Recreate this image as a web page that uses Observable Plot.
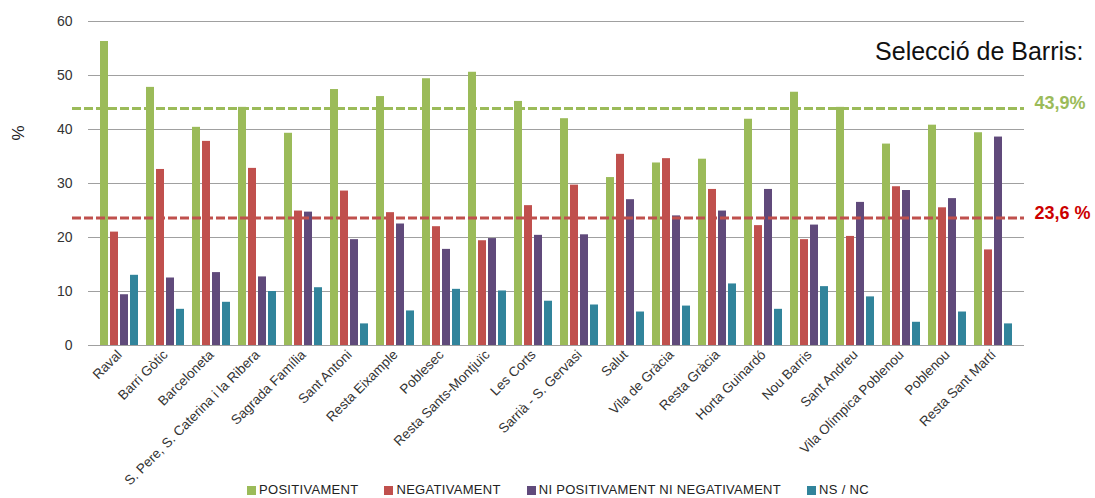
<!DOCTYPE html>
<html>
<head>
<meta charset="utf-8">
<script src="https://cdn.jsdelivr.net/npm/d3@7"></script>
<script src="https://cdn.jsdelivr.net/npm/@observablehq/plot@0.6"></script>
<style>
  html, body { margin: 0; padding: 0; background: #fff; }
  #wrap { position: relative; width: 1095px; height: 498px; font-family: "Liberation Sans", Arial, sans-serif; }
  #wrap svg { position: absolute; left: 0; top: 0; }
  #legend { position: absolute; left: 247px; top: 482px; display: flex; gap: 26px; font-size: 13px; letter-spacing: 0.3px; color: #222; line-height: 16px; }
  #legend .item { display: flex; align-items: center; white-space: nowrap; }
  #legend .sw { width: 9px; height: 9px; margin-right: 3px; display: inline-block; }
</style>
</head>
<body>
<div id="wrap"><div id="legend"></div></div>
<script>
const barris = ["Raval", "Barri Gòtic", "Barceloneta", "S. Pere, S. Caterina i la Ribera", "Sagrada Família",
  "Sant Antoni", "Resta Eixample", "Poblesec", "Resta Sants-Montjuïc", "Les Corts", "Sarrià - S. Gervasi",
  "Salut", "Vila de Gràcia", "Resta Gràcia", "Horta Guinardó", "Nou Barris", "Sant Andreu",
  "Vila Olímpica Poblenou", "Poblenou", "Resta Sant Martí"];
const series = ["POSITIVAMENT", "NEGATIVAMENT", "NI POSITIVAMENT NI NEGATIVAMENT", "NS / NC"];
const seriesColors = ["#9BBB59", "#C0504D", "#604A7B", "#31849B"];
const positivament = [56.3, 47.8, 40.4, 44.1, 39.3, 47.4, 46.1, 49.4, 50.6, 45.2, 42.0, 31.1, 33.8, 34.5, 41.9, 46.9, 44.1, 37.3, 40.8, 39.4];
const negativament = [21.0, 32.6, 37.8, 32.8, 24.9, 28.6, 24.6, 22.0, 19.4, 25.9, 29.7, 35.4, 34.6, 28.9, 22.2, 19.6, 20.2, 29.4, 25.5, 17.7];
const niNi = [9.4, 12.5, 13.5, 12.7, 24.7, 19.6, 22.5, 17.8, 19.8, 20.4, 20.5, 27.0, 24.0, 24.9, 28.9, 22.3, 26.5, 28.7, 27.2, 38.6];
const nsNc = [13.0, 6.7, 8.0, 10.0, 10.7, 4.0, 6.4, 10.4, 10.1, 8.2, 7.5, 6.2, 7.3, 11.4, 6.7, 10.9, 9.0, 4.3, 6.2, 4.0];
const yTicks = [0, 10, 20, 30, 40, 50, 60];
const refValues = [43.9, 23.6];
const refLabels = ["43,9%", "23,6 %"];
const refLineColors = ["#9BBB59", "#C0504D"];
const refTextColors = ["#9BBB59", "#CC0000"];
const title = "Selecció de Barris:";
const yLabel = "%";

const valuesBySeries = [positivament, negativament, niNi, nsNc];
const data = [];
barris.forEach((b, i) => series.forEach((s, j) => data.push({barri: b, serie: s, value: valuesBySeries[j][i]})));
const refs = refValues.map((v, i) => ({value: v, label: refLabels[i], line: refLineColors[i], text: refTextColors[i]}));

const common = {
  width: 1095,
  height: 498,
  marginLeft: 88,
  marginRight: 71,
  marginTop: 21,
  marginBottom: 153,
  style: {fontFamily: "'Liberation Sans', Arial, sans-serif", background: "transparent"},
  y: {domain: [0, 60], axis: null}
};

// back layer: grid, y axis, titles
const back = Plot.plot({
  ...common,
  marks: [
    Plot.ruleY(yTicks, {stroke: "#a0a0a0", strokeWidth: 1.2}),
    Plot.axisY({ticks: yTicks, tickSize: 0, tickPadding: 16, fontSize: 14, color: "#333", label: null}),
    Plot.text([title], {frameAnchor: "top-right", textAnchor: "end", dx: 59, dy: 21, fontSize: 25, fill: "#111"}),
    Plot.text([yLabel], {frameAnchor: "left", dx: -70, dy: -43, rotate: -90, fontSize: 17, fill: "#222"})
  ]
});

// middle layer: grouped bars
const bars = Plot.plot({
  ...common,
  fx: {domain: barris, paddingInner: 0.13, paddingOuter: 0.1, axis: null, label: null},
  x: {domain: series, paddingInner: 0.2, paddingOuter: 0, axis: null},
  color: {domain: series, range: seriesColors},
  marks: [
    Plot.barY(data, {fx: "barri", x: "serie", y: "value", fill: "serie"}),
    Plot.axisFx({anchor: "bottom", tickRotate: -45, tickSize: 0, tickPadding: 7, fontSize: 13.5, color: "#333", label: null})
  ]
});

// front layer: reference lines
const front = Plot.plot({
  ...common,
  marks: [
    Plot.ruleY(refs, {y: "value", stroke: "line", strokeWidth: 3, strokeDasharray: "9,3", insetLeft: -16}),
    Plot.text(refs, {y: "value", text: "label", fill: "text", frameAnchor: "right", textAnchor: "start", dx: 10, dy: -5, fontSize: 18, fontWeight: "bold"})
  ]
});

const wrap = document.getElementById("wrap");
const legend = document.getElementById("legend");
wrap.insertBefore(back, legend);
wrap.insertBefore(bars, legend);
wrap.insertBefore(front, legend);

series.forEach((s, j) => {
  const item = document.createElement("div");
  item.className = "item";
  const sw = document.createElement("span");
  sw.className = "sw";
  sw.style.background = seriesColors[j];
  item.appendChild(sw);
  item.appendChild(document.createTextNode(s));
  legend.appendChild(item);
});
</script>
</body>
</html>
